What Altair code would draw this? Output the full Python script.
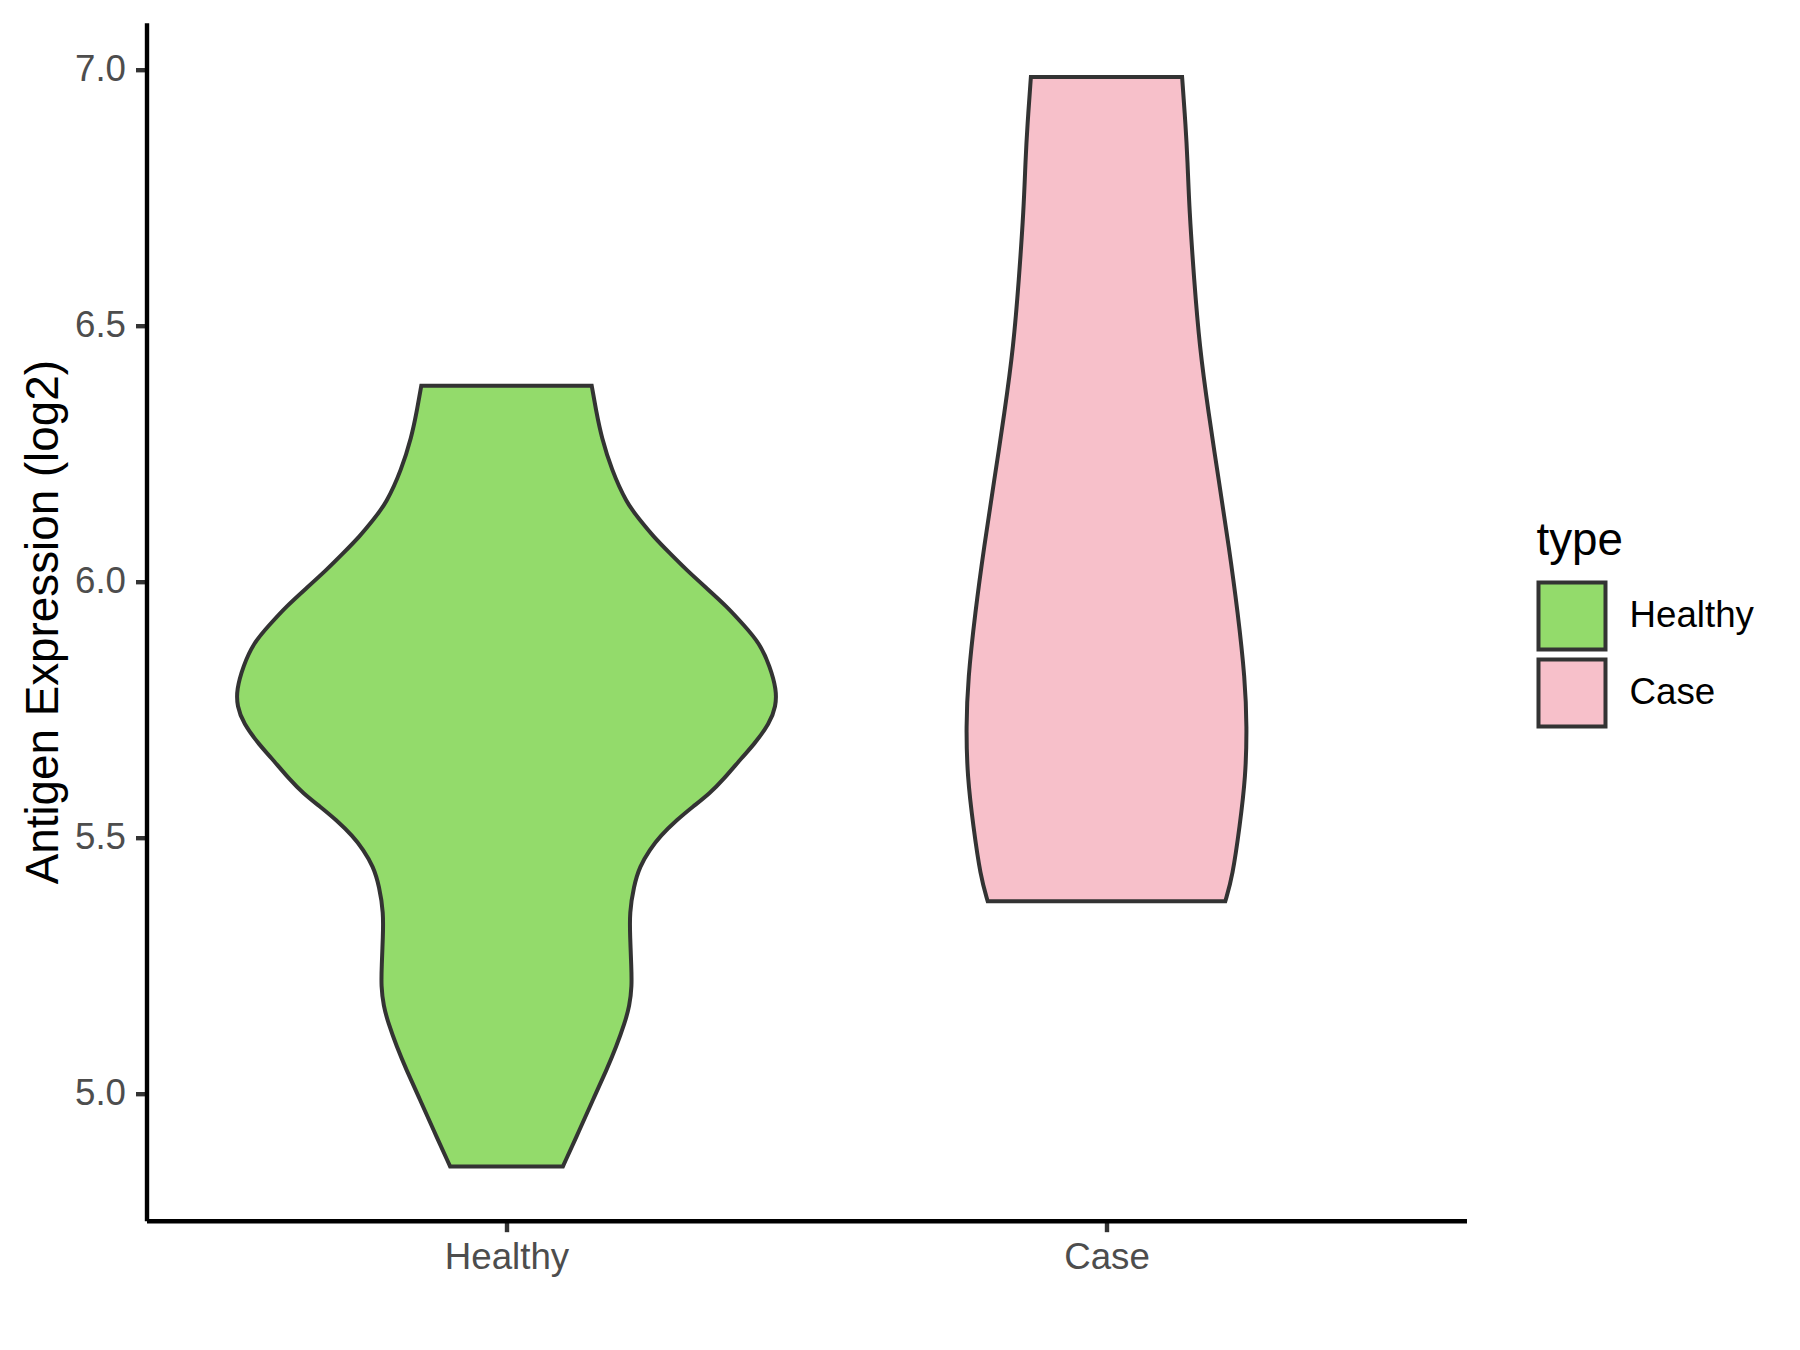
import json
import altair as alt
import pandas as pd

# ---- data ----
types = ["Healthy", "Case"]
colors = ["#93DB6B", "#F7C0CA"]

healthy_expr = [4.858, 4.930, 4.988, 5.047, 5.092, 5.138, 5.171, 5.210, 5.249, 5.307,
                5.353, 5.405, 5.444, 5.477, 5.503, 5.535, 5.561, 5.587, 5.613, 5.659,
                5.680, 5.724, 5.757, 5.789, 5.835, 5.880, 5.916, 5.952, 5.988, 6.023,
                6.056, 6.088, 6.121, 6.154, 6.219, 6.284, 6.330, 6.383]
healthy_halfwidth = [0.094, 0.122, 0.144, 0.167, 0.183, 0.197, 0.205, 0.209, 0.208, 0.206,
                     0.205, 0.212, 0.222, 0.239, 0.256, 0.284, 0.311, 0.339, 0.361, 0.394,
                     0.411, 0.439, 0.449, 0.450, 0.439, 0.422, 0.395, 0.367, 0.333, 0.300,
                     0.272, 0.245, 0.222, 0.200, 0.175, 0.158, 0.150, 0.142]

case_expr = [5.376, 5.424, 5.522, 5.620, 5.717, 5.809, 5.939, 6.069, 6.199, 6.330,
             6.460, 6.590, 6.727, 6.824, 6.889, 6.986]
case_halfwidth = [0.198, 0.210, 0.222, 0.232, 0.234, 0.231, 0.219, 0.204, 0.187, 0.170,
                  0.155, 0.146, 0.138, 0.135, 0.132, 0.126]

y_ticks = [5.0, 5.5, 6.0, 6.5, 7.0]

rows = []
for i, (t, ys, hws) in enumerate([(types[0], healthy_expr, healthy_halfwidth),
                                   (types[1], case_expr, case_halfwidth)]):
    pos = i + 1
    for y, hw in zip(ys, hws):
        rows.append({"type": t, "value": y, "left": pos - hw, "right": pos + hw})
df = pd.DataFrame(rows)

FONT = "Liberation Sans"
label_expr = json.dumps(types) + "[round(datum.value) - 1]"

chart = alt.Chart(df).mark_area(
    orient="horizontal",
    interpolate="basis",
    stroke="#333333",
    strokeWidth=4,
    strokeJoin="miter",
    opacity=1,
).encode(
    y=alt.Y("value:Q",
            scale=alt.Scale(domain=[4.752, 7.092], nice=False, zero=False),
            axis=alt.Axis(values=y_ticks, format=".1f", title="Antigen Expression (log2)",
                          grid=False, tickSize=11, tickWidth=4.4, tickColor="#333333",
                          domainColor="#000000", domainWidth=4.4,
                          labelFont=FONT, labelFontSize=36.7, labelColor="#4D4D4D",
                          labelPadding=10,
                          titleFont=FONT, titleFontSize=45.8, titleFontWeight="normal",
                          titleColor="#000000", titleX=-89.5, titleY=599,
                          titleBaseline="alphabetic", titleAngle=270)),
    x=alt.X("left:Q",
            scale=alt.Scale(domain=[0.4, 2.6], nice=False, zero=False),
            axis=alt.Axis(values=[1, 2], labelExpr=label_expr, title=None,
                          grid=False, tickSize=11, tickWidth=4.4, tickColor="#333333",
                          domainColor="#000000", domainWidth=4.4,
                          labelFont=FONT, labelFontSize=36.7, labelColor="#4D4D4D",
                          labelPadding=8)),
    x2="right:Q",
    fill=alt.Fill("type:N",
                  scale=alt.Scale(domain=types, range=colors),
                  legend=alt.Legend(title="type", orient="none", legendX=1390, legendY=496,
                                    symbolType="square", symbolSize=4489,
                                    symbolStrokeColor="#333333", symbolStrokeWidth=4,
                                    symbolOpacity=1,
                                    labelFont=FONT, labelFontSize=36.7, labelColor="#000000",
                                    labelOffset=22, rowPadding=-13, padding=0,
                                    titleFont=FONT, titleFontSize=45.8,
                                    titleFontWeight="normal", titleColor="#000000",
                                    titlePadding=16)),
).properties(
    width=1320,
    height=1198,
    autosize=alt.AutoSizeParams(type="none"),
    padding={"left": 138.5, "top": 14.7, "right": 320, "bottom": 110},
    background="white",
).configure_view(stroke=None)

chart.save("out.html", embed_options={"renderer": "svg", "actions": False})
